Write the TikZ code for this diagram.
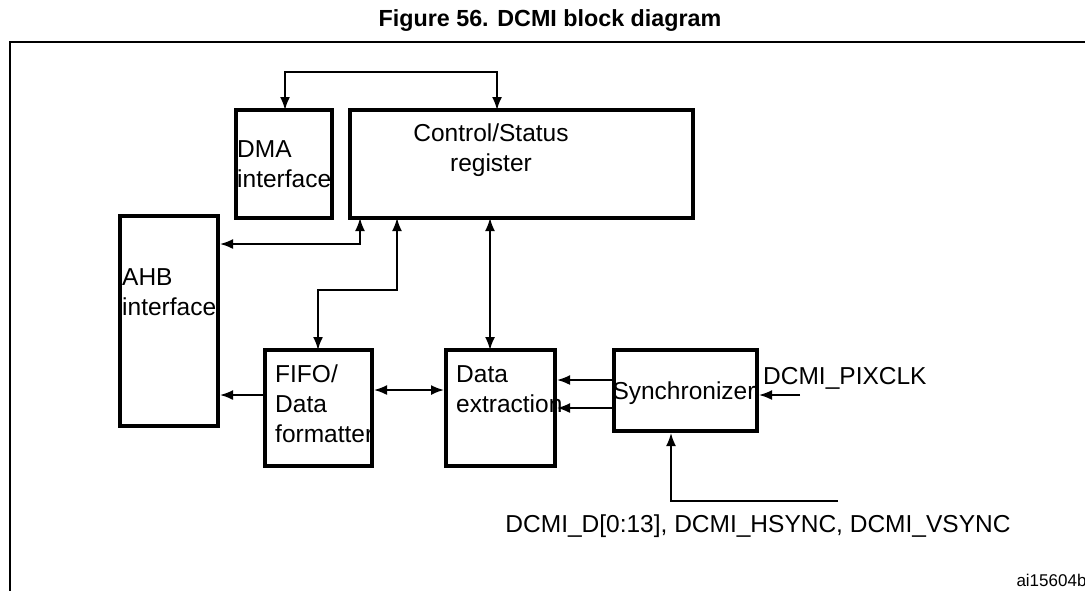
\documentclass[tikz,border=0pt]{standalone}
\usepackage{fontspec}
\setmainfont{Liberation Sans}
\usetikzlibrary{arrows.meta}
\begin{document}
\begin{tikzpicture}[x=1pt,y=-1pt,
  blk/.style={draw,line width=4pt,inner sep=0pt},
  con/.style={line width=1.8pt},
  ar/.style={con,-{Latex[length=13pt,width=10pt]}},
  br/.style={con,{Latex[length=13pt,width=10pt]}-{Latex[length=13pt,width=10pt]}},
  lab/.style={font=\fontsize{24.5}{30}\selectfont,align=left,inner sep=0pt}]
\useasboundingbox (0,0) rectangle (1085,590);
\node[font=\bfseries\fontsize{23.3}{28}\selectfont] (title) at (550,21) {Figure 56. DCMI block diagram};
\draw[line width=1.2pt] (10,600) -- (10,42) -- (1095,42);
\node[blk,minimum width=96pt,minimum height=108pt] (dma) at (284,164) {};
\node[lab,anchor=north west] (dmat) at (237,140) {DMA\\interface};
\node[blk,minimum width=343pt,minimum height=108pt] (csr) at (521.5,164) {};
\node[lab,align=center,anchor=north] (csrt) at (491,124) {Control/Status\\register};
\node[blk,minimum width=98pt,minimum height=210pt] (ahb) at (169,321) {};
\node[lab,anchor=west] (ahbt) at (122,292) {AHB\\interface};
\node[blk,minimum width=107pt,minimum height=116pt] (fifo) at (318.5,408) {};
\node[lab,anchor=north west] (fifot) at (275,365) {FIFO/\\Data\\formatter};
\node[blk,minimum width=109pt,minimum height=116pt] (dex) at (500.5,408) {};
\node[lab,anchor=north west] (dext) at (456,365) {Data\\extraction};
\node[blk,minimum width=143pt,minimum height=81pt] (syn) at (685.5,390.5) {};
\node[lab] (synt) at (684,393) {Synchronizer};
\coordinate (pix) at (800,395);
\node[lab,anchor=west] (pixt) at (763,378) {DCMI\_PIXCLK};
\coordinate (dd) at (838,501);
\node[lab] (ddt) at (758,526) {DCMI\_D[0:13], DCMI\_HSYNC, DCMI\_VSYNC};
\node[font=\fontsize{17}{20}\selectfont,anchor=east] (ai) at (1090,580) {ai15604b};
% connectors
\draw[br] (285,110) |- (497,72) -- (497,110);
\draw[br] (ahb.east |- 0,244) -| (360,218);
\draw[br] (318,350) |- (397,290) -- (397,218);
\draw[br] (490,218) -- (490,350);
\draw[ar] (fifo.west |- 0,395) -- (ahb.east |- 0,395);
\draw[br] (fifo.east |- 0,390) -- (dex.west |- 0,390);
\draw[ar] (syn.west |- 0,380) -- (dex.east |- 0,380);
\draw[ar] (syn.west |- 0,408) -- (dex.east |- 0,408);
\draw[ar] (pix) -- (syn.east |- pix);
\draw[ar] (dd) -| (syn.south -| 671,0);
\end{tikzpicture}
\end{document}
